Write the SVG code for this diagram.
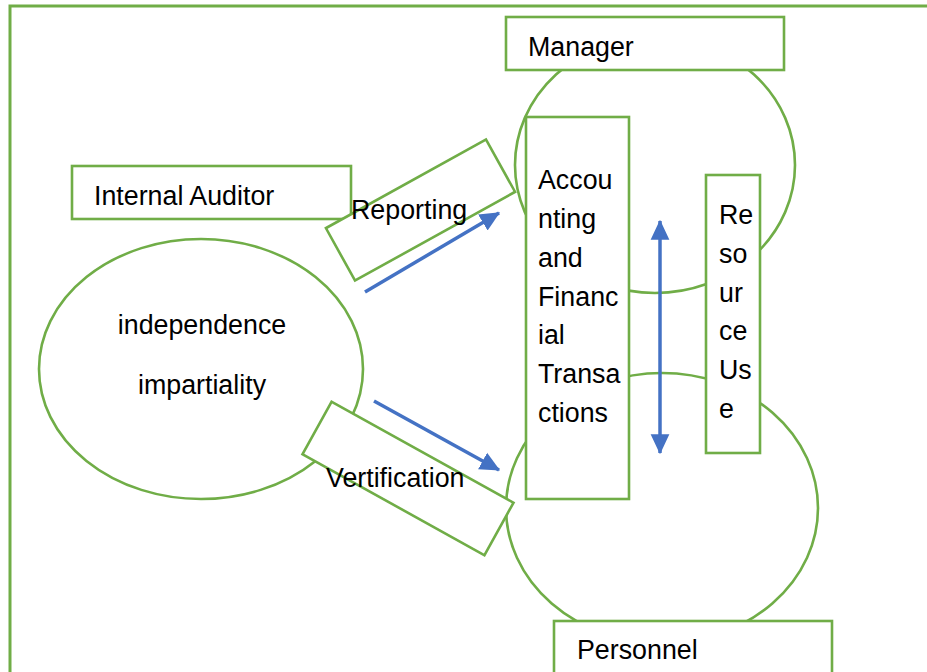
<svg xmlns="http://www.w3.org/2000/svg" width="927" height="672" viewBox="0 0 927 672">
<style>
.s{fill:#fff;stroke:#70AD47;stroke-width:2.6}
.f{fill:none;stroke:#70AD47;stroke-width:3}
.t{font-family:"Liberation Sans",Arial,sans-serif;font-size:26.8px;fill:#000}
.c{stroke:#4472C4;stroke-width:3.5;fill:none}
</style>
<defs>
<marker id="ah" markerUnits="userSpaceOnUse" markerWidth="20" markerHeight="20" viewBox="0 0 16 16" refX="15" refY="8" orient="auto-start-reverse">
<path d="M0,0.5 L16,8 L0,15.5 Z" fill="#4472C4"/>
</marker>
</defs>
<rect x="0" y="0" width="927" height="672" fill="#fff"/>
<rect class="f" x="10" y="6" width="940" height="700"/>
<g id="manager-circle"><ellipse class="s" cx="655" cy="165" rx="140" ry="128"/></g>
<g id="personnel-circle"><ellipse class="s" cx="662" cy="508" rx="156" ry="135"/></g>
<g id="ellipse"><ellipse class="s" cx="201" cy="369" rx="162" ry="130"/>
<text class="t" x="202" y="334" text-anchor="middle">independence</text>
<text class="t" x="202" y="394" text-anchor="middle">impartiality</text></g>
<g id="internal-auditor"><rect class="s" x="72" y="166" width="279" height="53"/>
<text class="t" x="94" y="205">Internal Auditor</text></g>
<g id="reporting"><rect class="s" x="-91.5" y="-30" width="183" height="60" transform="translate(420.5,210) rotate(-29)"/>
<text class="t" x="351" y="219">Reporting</text></g>
<g id="verification"><rect class="s" x="-104" y="-30" width="208" height="60" transform="translate(408,478.5) rotate(29)"/>
<text class="t" x="326" y="487">Vertification</text></g>
<g id="accounting"><rect class="s" x="526" y="117" width="103" height="382"/>
<text class="t" x="538" y="189">Accou</text>
<text class="t" x="538" y="228">nting</text>
<text class="t" x="538" y="267">and</text>
<text class="t" x="538" y="306">Financ</text>
<text class="t" x="538" y="344">ial</text>
<text class="t" x="538" y="383">Transa</text>
<text class="t" x="538" y="422">ctions</text></g>
<g id="resource"><rect class="s" x="706" y="175" width="54" height="278"/>
<text class="t" x="719" y="224">Re</text>
<text class="t" x="719" y="263">so</text>
<text class="t" x="719" y="302">ur</text>
<text class="t" x="719" y="340">ce</text>
<text class="t" x="719" y="379">Us</text>
<text class="t" x="719" y="418">e</text></g>
<g id="manager"><rect class="s" x="506" y="17" width="278" height="53"/>
<text class="t" x="528" y="56">Manager</text></g>
<g id="personnel"><rect class="s" x="554" y="621" width="278" height="70"/>
<text class="t" x="577" y="659">Personnel</text></g>
<g id="connectors">
<line class="c" x1="365" y1="292" x2="499" y2="213" marker-end="url(#ah)"/>
<line class="c" x1="374" y1="401" x2="499" y2="470" marker-end="url(#ah)"/>
<line class="c" x1="660" y1="221" x2="660" y2="453" marker-start="url(#ah)" marker-end="url(#ah)"/>
</g>
</svg>
